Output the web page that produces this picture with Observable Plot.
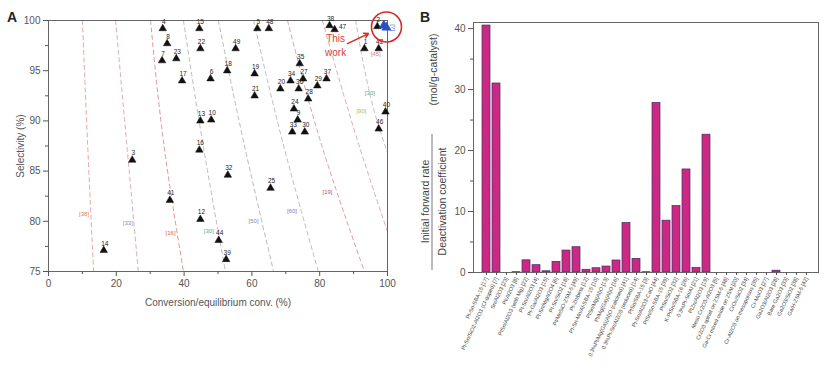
<!DOCTYPE html>
<html><head><meta charset="utf-8">
<script src="https://cdn.jsdelivr.net/npm/d3@7"></script>
<script src="https://cdn.jsdelivr.net/npm/@observablehq/plot@0.6"></script>
<style>
body{margin:0;background:#fff;font-family:"Liberation Sans",Arial,sans-serif;}
#wrap{position:relative;width:831px;height:383px;overflow:hidden;}
#a{position:absolute;left:0;top:0}
#b{position:absolute;left:410px;top:0}
.letter{position:absolute;font-weight:bold;font-size:14px;line-height:14px;color:#222;}
</style></head><body>
<div id="wrap"><div id="a"></div><div id="b"></div>
<div class="letter" style="left:7px;top:10px">A</div>
<div class="letter" style="left:420px;top:10px">B</div></div>
<script>
// ---------- Panel A data ----------
const xTicksA = [0, 20, 40, 60, 80, 100];
const xMinorA = [10, 30, 50, 70, 90];
const yTicksA = [75, 80, 85, 90, 95, 100];
const yMinorA = [77.5, 82.5, 87.5, 92.5, 97.5];

const pointX = [16.3, 24.7, 33.7, 35.0, 33.5, 37.7, 39.4, 35.8, 44.5, 44.8, 44.8, 48.0, 44.5, 44.8, 47.8, 50.2, 52.4, 52.7, 55.2, 52.9, 60.8, 60.8, 61.6, 65.0, 65.5, 68.4, 71.4, 74.1, 75.1, 73.8, 79.3, 82.0, 76.6, 72.4, 73.5, 71.9, 75.6, 82.9, 84.4, 93.2, 97.4, 99.4, 97.4, 97.0];
const pointY = [77.1, 86.1, 99.2, 97.7, 96.0, 96.2, 94.0, 82.1, 99.2, 97.2, 90.0, 90.1, 87.1, 80.2, 94.2, 78.1, 76.2, 95.0, 97.2, 84.6, 94.7, 92.5, 99.2, 99.2, 83.3, 93.2, 94.0, 95.7, 94.2, 93.2, 93.5, 94.2, 92.2, 91.2, 90.1, 88.9, 88.9, 99.5, 99.1, 97.2, 97.2, 90.9, 89.2, 99.4];
const pointLabel = ["14", "3", "4", "8", "7", "23", "17", "41", "15", "22", "13", "10", "16", "12", "6", "44", "39", "18", "49", "32", "19", "21", "5", "48", "25", "20", "34", "35", "27", "36", "29", "37", "28", "24", "9", "33", "30", "38", "47", "1", "42", "40", "46", "2"];

const workX = [98.9, 99.7];
const workY = [99.5, 99.3];

// dashed iso-lines: conversion at selectivity 100, 88 and 75
const lineX100 = [10.0, 19.8, 30.1, 39.8, 50.1, 60.5, 70.5, 80.8, 90.6];
const lineX88 = [11.5, 23.0, 33.9, 45.4, 57.5, 69.0, 80.2, 91.2, 98.8];
const lineX75 = [13.3, 26.5, 39.8, 52.2, 66.4, 79.6, 93.2, 104.0, 116.0];
const lineColor = ["#e79a92", "#d9a0a8", "#e0868c", "#b4b4b8", "#b0b0b4", "#b4b4b8", "#e0909a", "#e39aa4", "#b8b8bc"];

const refText = ["[38]", "[33]", "[16]", "[30]", "[50]", "[60]", "[19]", "[30]", "[90]", "[45]"];
const refX = [10.5, 23.4, 36.0, 47.3, 60.5, 71.8, 82.3, 94.8, 92.3, 96.5];
const refY = [80.7, 79.8, 78.8, 79.0, 80.0, 81.0, 82.9, 92.8, 91.0, 96.7];
const refColor = ["#e0804a", "#8a86c8", "#d05a5a", "#5aa880", "#8a8aa0", "#7a7ac8", "#c84c56", "#4aa8a0", "#b8b84a", "#d07890"];

// ---------- Panel B data ----------
const catalysts = [
  "Pt-Sn-SBA-15 [17]", "Pt-Sn/SiO2-Al2O3 (Cl-doped) [7]", "Sn/Al2O3 [23]", "Pt/Al2O3 [8]",
  "PtSn/Al2O3 (with Mg) [22]", "Pt-Sn/Al2O3 [4]", "Pt-Ga/Al2O3 [15]", "Pt-Sn/MgAl2O4 [6]",
  "Pt-Sn/SiO2 [18]", "Pt/MnSiO-ZSM-5 [49]", "Pt-Zn/beta [12]", "Pt-Sn-Mn/Al-SBA-15 [10]",
  "PtSn/Mg(Al)O [13]", "Pt/Mg(Ga)(Al)O [16]", "0.3%Pt/Mg(Ga)(Al)O (calcined) [41]", "0.3%Pt-Sn/Al2O3 (reduced) [14]",
  "PtSn/SBA-15 [3]", "Pt-Sn/Al2O3-CaO [44]", "PtSn/Sn-SBA-15 [39]", "PtSn/SiO2 [32]",
  "K-PtSn/SBA-16 [26]", "0.3%Pt-Sn/Al [21]", "PtZn/Al2O3 [19]", "Meso Cr2O3-Al2O3 [5]",
  "Cr2O3 spinel on ZSM-5 [48]", "Ga-Cr mixed oxide on ZSM [20]", "CrOx/SiO2 [34]", "Cr-Al2O3 on mesoporous [35]",
  "Cr-MoO3 [27]", "Ga2O3/Al2O3 [28]", "Bare Ga2O3 [33]", "Ga2O3/SiO2 [38]", "Ga/H-ZSM-5 [42]"
];
const rateRatio = [40.5, 31.0, 0, 0.05, 2.0, 1.2, 0.2, 1.75, 3.6, 4.15, 0.45, 0.7, 0.98, 1.97, 8.1, 2.24, 0.05, 27.8, 8.5, 10.9, 16.9, 0.77, 22.6, 0, 0, 0, 0, 0, 0, 0.3, 0, 0, 0];
const yTicksB = [0, 10, 20, 30, 40];
const yMinorB = [5, 15, 25, 35];

const font = '"Liberation Sans", Arial, sans-serif';
const ns = "http://www.w3.org/2000/svg";

// ---------- Panel A ----------
const points = pointX.map((x, i) => ({x, y: pointY[i], label: pointLabel[i]}));
const work = workX.map((x, i) => ({x, y: workY[i]}));
const lineData = lineX100.flatMap((x, i) => [
  {id: i, x, y: 100, c: lineColor[i]},
  {id: i, x: lineX88[i], y: 88, c: lineColor[i]},
  {id: i, x: lineX75[i], y: 75, c: lineColor[i]}
]);
const refs = refText.map((t, i) => ({t, x: refX[i], y: refY[i], c: refColor[i]}));

const A = Plot.plot({
  width: 410, height: 320,
  marginLeft: 48, marginRight: 23, marginTop: 20, marginBottom: 49,
  style: {fontFamily: font, fontSize: "10px", color: "#555", background: "white", overflow: "visible"},
  x: {domain: [0, 100]},
  y: {domain: [75, 100]},
  color: {type: "identity"},
  marks: [
    Plot.line(lineData, {x: "x", y: "y", z: "id", stroke: "c", strokeDasharray: "4,3.5", strokeWidth: 0.9, curve: "natural", clip: true}),
    Plot.text(refs, {x: "x", y: "y", text: "t", fill: "c", fontSize: 6}),
    Plot.frame({stroke: "#666", strokeWidth: 1}),
    Plot.axisX(xTicksA, {tickSize: 5, tickPadding: 3, label: "Conversion/equilibrium conv. (%)", labelAnchor: "center", labelArrow: "none", labelOffset: 34, fontSize: 10}),
    Plot.axisX(xMinorA, {tickSize: 3, tickFormat: () => "", label: null}),
    Plot.axisY(yTicksA, {tickSize: 5, tickPadding: 3, label: "Selectivity (%)", labelAnchor: "center", labelArrow: "none", labelOffset: 32, fontSize: 10}),
    Plot.axisY(yMinorA, {tickSize: 3, tickFormat: () => "", label: null}),
    Plot.dot(points, {x: "x", y: "y", symbol: "triangle", r: 2.8, fill: "#111", stroke: "#111", strokeWidth: 0.5}),
    Plot.text(points.filter(d => d.label !== "47"), {x: "x", y: "y", text: "label", dy: -7, dx: 1, fontSize: 6.5, fill: "#222"}),
    Plot.text(points.filter(d => d.label === "47"), {x: "x", y: "y", text: "label", dy: -3, dx: 8, fontSize: 6.5, fill: "#222"}),
    Plot.dot(work, {x: "x", y: "y", symbol: "triangle", r: 2.8, fill: "#2a4fc0", stroke: "#2a4fc0"}),
    Plot.text(["[?]"], {x: () => 100, y: () => 99.3, dx: 5, rotate: 90, fontSize: 6, fill: "#3a5ad0"}),
    Plot.dot([{x: 99.7, y: 99.35}], {x: "x", y: "y", r: 15, stroke: "#d42a2a", strokeWidth: 1.6, fill: "none"}),
    Plot.arrow([{x1: 88.2, y1: 97.7, x2: 94.4, y2: 98.7}], {x1: "x1", y1: "y1", x2: "x2", y2: "y2", stroke: "#d42a2a", strokeWidth: 1.5, headLength: 5, bend: false}),
    Plot.text(["This", "work"], {x: () => 84.7, y: (d, i) => (i === 0 ? 98.2 : 96.8), text: d => d, fill: "#d94040", fontSize: 10})
  ]
});
document.getElementById("a").appendChild(A);

// ---------- Panel B ----------
const bars = catalysts.map((name, i) => ({name, value: rateRatio[i]}));
const B = Plot.plot({
  width: 421, height: 383,
  marginLeft: 63, marginRight: 13, marginTop: 22, marginBottom: 111,
  style: {fontFamily: font, fontSize: "10px", color: "#555", background: "white", overflow: "visible"},
  x: {domain: catalysts, padding: 0.2},
  y: {domain: [0, 41]},
  marks: [
    () => {
      const defs = document.createElementNS(ns, "defs");
      defs.innerHTML = '<pattern id="hatch" patternUnits="userSpaceOnUse" width="3" height="3" patternTransform="rotate(45)"><rect width="3" height="3" fill="#d6267e"/><line x1="0" y1="0" x2="0" y2="3" stroke="#8a3a9c" stroke-width="0.9"/></pattern>';
      return defs;
    },
    Plot.barY(bars, {x: "name", y: "value", fill: "url(#hatch)", stroke: "#3f2c6a", strokeWidth: 0.7}),
    Plot.frame({stroke: "#666", strokeWidth: 1}),
    Plot.axisY(yTicksB, {tickSize: 5, tickPadding: 3, label: null, fontSize: 10}),
    Plot.axisY(yMinorB, {tickSize: 3, tickFormat: () => "", label: null}),
    Plot.axisX({tickRotate: -65, tickSize: 3, tickPadding: 2, fontSize: 5.5, label: null, fill: "#444"}),
    Plot.text(["Initial forward rate"], {frameAnchor: "left", textAnchor: "middle", rotate: -90, dx: -48, dy: 54, fontSize: 10.5, fill: "#444"}),
    Plot.text(["Deactivation coefficient"], {frameAnchor: "left", textAnchor: "middle", rotate: -90, dx: -31, dy: 54, fontSize: 10.5, fill: "#444"}),
    Plot.text(["(mol/g-catalyst)"], {frameAnchor: "left", textAnchor: "middle", rotate: -90, dx: -40, dy: -78, fontSize: 10.5, fill: "#444"}),
    () => {
      const l = document.createElementNS(ns, "line");
      l.setAttribute("x1", 22); l.setAttribute("x2", 22);
      l.setAttribute("y1", 134); l.setAttribute("y2", 270);
      l.setAttribute("stroke", "#555"); l.setAttribute("stroke-width", 0.8);
      return l;
    }
  ]
});
document.getElementById("b").appendChild(B);
</script>
</body></html>
